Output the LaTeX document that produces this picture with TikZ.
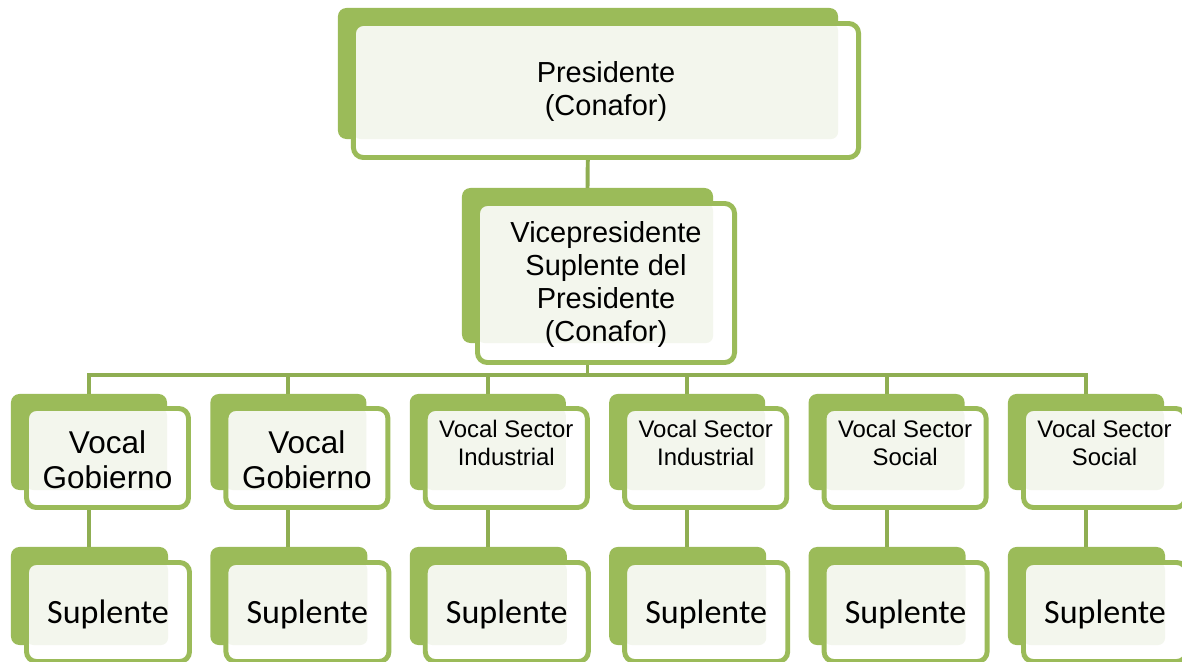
\documentclass[tikz,border=0pt]{standalone}
\usepackage{fontspec}
\setmainfont{Liberation Sans}
\newfontfamily\calibri{Carlito}
\usetikzlibrary{positioning, backgrounds}

\definecolor{verde}{HTML}{9BBB59}
\definecolor{tinte}{HTML}{F3F6ED}
\definecolor{linea}{HTML}{8FAE52}

\tikzset{
  fondo/.style={rectangle, rounded corners=6pt, fill=verde, inner sep=0pt, outer sep=0pt},
  frente/.style={rectangle, rounded corners=7pt, fill=white, draw=verde, line width=3.5pt,
    inner sep=0pt, outer sep=0pt,
    path picture={\fill[tinte, rounded corners=5pt] (path picture bounding box.north west) rectangle (#1.south east);}},
  conector/.style={linea, line width=2.8pt},
  cargo/.style={align=center, font=\fontsize{20.6}{23.5}\selectfont, yshift=-1pt},
  gob/.style={align=center, font=\fontsize{22.4}{25}\selectfont, yshift=-1pt},
  sector/.style={align=center, font=\fontsize{17}{20}\selectfont, yshift=10.5pt},
  suplente/.style={font=\calibri\fontsize{24.2}{29}\selectfont, yshift=-2pt}
}

\begin{document}
\begin{tikzpicture}[x=0.025cm, y=-0.025cm]
\useasboundingbox (0,0) rectangle (1182,662);

% presidente
\node[fondo, minimum width=12.5cm, minimum height=3.275cm] (pb) at (588,73.5) {};
\node[frente=pb, minimum width=12.625cm, minimum height=3.35cm] (pf) at (606,90.5) {};
\node[cargo] (pt) at (pf.center) {Presidente\\(Conafor)};

% vicepresidente
\node[fondo, minimum width=6.275cm, minimum height=3.875cm] (vb) at (587.5,265.5) {};
\node[frente=vb, minimum width=6.425cm, minimum height=3.975cm] (vf) at (606,283) {};
\node[cargo] (vt) at (vf.center) {Vicepresidente\\Suplente del\\Presidente\\(Conafor)};

% vocales y suplentes
\foreach \i/\est/\txt in {1/gob/{Vocal\\Gobierno}, 2/gob/{Vocal\\Gobierno},
    3/sector/{Vocal Sector\\Industrial}, 4/sector/{Vocal Sector\\Industrial},
    5/sector/{Vocal Sector\\Social}, 6/sector/{Vocal Sector\\Social}}
{
  \pgfmathsetmacro\cx{89+199.4*(\i-1)}
  \node[fondo, minimum width=3.9cm, minimum height=2.4cm] (vocal\i) at (\cx,442) {};
  \node[frente=vocal\i, minimum width=4.05cm, minimum height=2.475cm] (fvocal\i) at (\cx+18.5,458) {};
  \node[\est] (tvocal\i) at (fvocal\i.center) {\txt};
  \node[fondo, minimum width=3.925cm, minimum height=2.45cm] (sup\i) at (\cx+0.5,596) {};
  \node[frente=sup\i, minimum width=4.075cm, minimum height=2.475cm] (fsup\i) at (\cx+19,612) {};
  \node[suplente] (tsup\i) at (fsup\i.center) {Suplente};
}

% lineas
\begin{scope}[on background layer]
\coordinate (barra) at (0,375);
\draw[conector] (pb.south) -- (vb.north);
\foreach \i in {1,...,6} {
  \draw[conector] (vb.south) -- (vb.south |- barra) -| (vocal\i.north);
  \draw[conector] (vocal\i.south) -- (vocal\i.south |- sup\i.north);
}
\end{scope}
\end{tikzpicture}
\end{document}
